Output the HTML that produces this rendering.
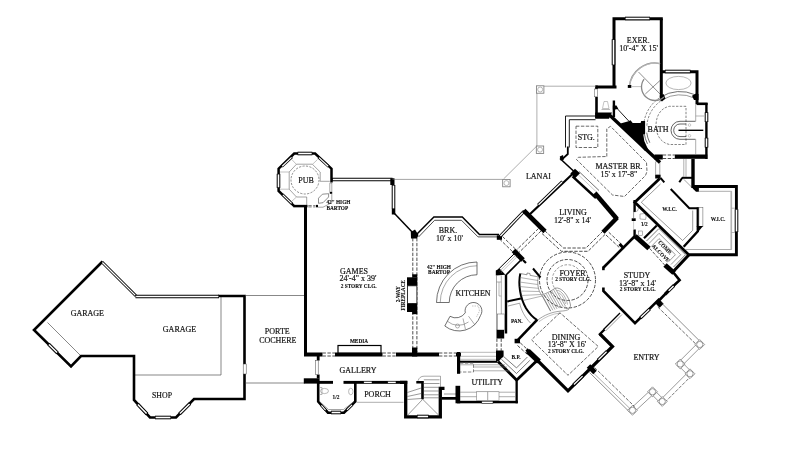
<!DOCTYPE html>
<html><head><meta charset="utf-8"><title>Floor plan</title>
<style>
html,body{margin:0;padding:0;background:#fff;}
body{width:800px;height:452px;overflow:hidden;}
svg{display:block;font-family:"Liberation Serif",serif;filter:grayscale(1);}
</style></head><body>
<svg width="800" height="452" viewBox="0 0 800 452">
<rect x="0" y="0" width="800" height="452" fill="#fff"/>
<g style="opacity:0.999">
<polyline points="47.50,322.50 80.00,355.00" fill="none" stroke="#555" stroke-width="0.7"/>
<polyline points="134.00,375.00 221.00,375.00 221.00,296.00" fill="none" stroke="#555" stroke-width="0.7"/>
<polyline points="102.50,261.50 34.00,330.00 71.00,366.50 81.00,356.00 134.00,356.00 134.00,400.00 150.00,417.50 176.00,417.50 194.00,399.00 244.50,399.00 244.50,374.00" fill="none" stroke="#000" stroke-width="2.6" stroke-linecap="butt" stroke-linejoin="miter"/>
<polyline points="244.50,364.00 244.50,296.00 218.00,296.00" fill="none" stroke="#000" stroke-width="2.6" stroke-linecap="butt" stroke-linejoin="miter"/>
<line x1="102.00" y1="262.00" x2="135.80" y2="295.80" stroke="#000" stroke-width="3"/>
<line x1="102.42" y1="262.42" x2="135.38" y2="295.38" stroke="#fff" stroke-width="1.3"/>
<line x1="135.50" y1="296.50" x2="219.00" y2="296.50" stroke="#000" stroke-width="3.6"/>
<line x1="136.10" y1="296.50" x2="218.40" y2="296.50" stroke="#fff" stroke-width="1.6"/>
<rect x="243.20" y="364.00" width="3.00" height="10.00" fill="#fff" stroke="#444" stroke-width="0.5"/>
<line x1="137.50" y1="404.00" x2="147.00" y2="414.00" stroke="#000" stroke-width="3.4"/>
<line x1="137.91" y1="404.43" x2="146.59" y2="413.57" stroke="#fff" stroke-width="1.5"/>
<line x1="155.00" y1="417.50" x2="171.00" y2="417.50" stroke="#000" stroke-width="3.6"/>
<line x1="155.60" y1="417.50" x2="170.40" y2="417.50" stroke="#fff" stroke-width="1.6"/>
<line x1="179.50" y1="414.00" x2="190.00" y2="403.50" stroke="#000" stroke-width="3.4"/>
<line x1="179.92" y1="413.58" x2="189.58" y2="403.92" stroke="#fff" stroke-width="1.5"/>
<line x1="48.50" y1="344.00" x2="57.50" y2="353.00" stroke="#000" stroke-width="3.4"/>
<line x1="48.92" y1="344.42" x2="57.08" y2="352.58" stroke="#fff" stroke-width="1.5"/>
<text x="87.30" y="316.30" font-size="8" text-anchor="middle" fill="#111" stroke="#111" stroke-width="0.18" font-weight="normal">GARAGE</text>
<text x="179.50" y="332.30" font-size="8" text-anchor="middle" fill="#111" stroke="#111" stroke-width="0.18" font-weight="normal">GARAGE</text>
<text x="162.00" y="398.00" font-size="7.8" text-anchor="middle" fill="#111" stroke="#111" stroke-width="0.18" font-weight="normal">SHOP</text>
<polyline points="245.50,295.50 305.00,295.50" fill="none" stroke="#555" stroke-width="0.7"/>
<polyline points="245.50,383.00 305.00,383.00" fill="none" stroke="#555" stroke-width="0.7"/>
<text x="277.30" y="334.00" font-size="8" text-anchor="middle" fill="#111" stroke="#111" stroke-width="0.18" font-weight="normal">PORTE</text>
<text x="277.80" y="343.20" font-size="8" text-anchor="middle" fill="#111" stroke="#111" stroke-width="0.18" font-weight="normal">COCHERE</text>
<polyline points="305.50,206.00 305.50,356.00" fill="none" stroke="#000" stroke-width="3" stroke-linecap="butt" stroke-linejoin="miter"/>
<rect x="304.00" y="352.50" width="18.50" height="4.00" fill="#000" stroke="none" stroke-width="0"/>
<rect x="335.00" y="352.50" width="47.50" height="4.00" fill="#000" stroke="none" stroke-width="0"/>
<rect x="396.00" y="352.50" width="43.00" height="4.00" fill="#000" stroke="none" stroke-width="0"/>
<rect x="456.00" y="352.50" width="5.00" height="4.00" fill="#000" stroke="none" stroke-width="0"/>
<polyline points="322.50,353.00 335.00,353.00" fill="none" stroke="#222" stroke-width="0.8" stroke-dasharray="3.4 1.5"/>
<polyline points="322.50,356.00 335.00,356.00" fill="none" stroke="#222" stroke-width="0.8" stroke-dasharray="3.4 1.5"/>
<polyline points="382.50,353.00 396.00,353.00" fill="none" stroke="#222" stroke-width="0.8" stroke-dasharray="3.4 1.5"/>
<polyline points="382.50,356.00 396.00,356.00" fill="none" stroke="#222" stroke-width="0.8" stroke-dasharray="3.4 1.5"/>
<polyline points="439.00,353.00 456.00,353.00" fill="none" stroke="#222" stroke-width="0.8" stroke-dasharray="3.4 1.5"/>
<polyline points="439.00,356.00 456.00,356.00" fill="none" stroke="#222" stroke-width="0.8" stroke-dasharray="3.4 1.5"/>
<rect x="338.00" y="345.50" width="43.00" height="7.50" fill="#fff" stroke="#000" stroke-width="1.2"/>
<text x="359.00" y="342.60" font-size="5.3" text-anchor="middle" fill="#111" stroke="#111" stroke-width="0.12" font-weight="bold">MEDIA</text>
<text x="354.00" y="274.00" font-size="8" text-anchor="middle" fill="#111" stroke="#111" stroke-width="0.18" font-weight="normal">GAMES</text>
<text x="358.00" y="281.20" font-size="8" text-anchor="middle" fill="#111" stroke="#111" stroke-width="0.18" font-weight="normal">24'-4&quot; x 39'</text>
<text x="358.70" y="287.60" font-size="5.3" text-anchor="middle" fill="#111" stroke="#111" stroke-width="0.12" font-weight="bold">2 STORY CLG.</text>
<line x1="332.00" y1="179.50" x2="392.50" y2="179.50" stroke="#000" stroke-width="3.6"/>
<line x1="332.60" y1="179.50" x2="391.90" y2="179.50" stroke="#fff" stroke-width="1.6"/>
<rect x="390.30" y="178.30" width="4.20" height="6.70" fill="#000" stroke="none" stroke-width="0"/>
<line x1="393.50" y1="185.00" x2="393.50" y2="209.00" stroke="#000" stroke-width="3.6"/>
<line x1="393.50" y1="185.60" x2="393.50" y2="208.40" stroke="#fff" stroke-width="1.6"/>
<rect x="391.80" y="209.00" width="3.50" height="5.50" fill="#000" stroke="none" stroke-width="0"/>
<polyline points="394.50,213.50 414.00,234.00" fill="none" stroke="#000" stroke-width="1.5" stroke-linecap="butt" stroke-linejoin="miter"/>
<polyline points="294.20,206.10 278.60,190.90 278.60,168.70 294.20,153.50 315.10,153.50 331.50,168.70 331.50,182.60" fill="none" stroke="#000" stroke-width="2.5" stroke-linecap="butt" stroke-linejoin="miter"/>
<polyline points="293.30,206.10 307.50,206.10" fill="none" stroke="#000" stroke-width="2.5" stroke-linecap="butt" stroke-linejoin="miter"/>
<line x1="297.60" y1="153.50" x2="312.30" y2="153.50" stroke="#000" stroke-width="3.6"/>
<line x1="298.20" y1="153.50" x2="311.70" y2="153.50" stroke="#fff" stroke-width="1.6"/>
<line x1="318.50" y1="157.20" x2="328.60" y2="166.60" stroke="#000" stroke-width="2.7"/>
<line x1="318.94" y1="157.61" x2="328.16" y2="166.19" stroke="#fff" stroke-width="1.2"/>
<line x1="278.50" y1="173.80" x2="278.50" y2="187.90" stroke="#000" stroke-width="3.6"/>
<line x1="278.50" y1="174.40" x2="278.50" y2="187.30" stroke="#fff" stroke-width="1.6"/>
<line x1="281.80" y1="166.60" x2="292.00" y2="157.00" stroke="#000" stroke-width="2.7"/>
<line x1="282.24" y1="166.19" x2="291.56" y2="157.41" stroke="#fff" stroke-width="1.2"/>
<line x1="282.40" y1="194.40" x2="292.00" y2="203.80" stroke="#000" stroke-width="2.7"/>
<line x1="282.83" y1="194.82" x2="291.57" y2="203.38" stroke="#fff" stroke-width="1.2"/>
<circle cx="305.00" cy="180.00" r="14.00" fill="none" stroke="#444" stroke-width="0.6" stroke-dasharray="2.2 1.3"/>
<polyline points="289.20,172.00 296.50,164.20 312.30,164.20 320.20,172.00 320.20,181.30 329.80,181.30" fill="none" stroke="#666" stroke-width="0.6"/>
<polyline points="289.20,172.00 289.20,189.20 296.50,197.00 306.70,197.00 306.70,205.00" fill="none" stroke="#666" stroke-width="0.6"/>
<polyline points="292.00,159.70 296.50,164.50" fill="none" stroke="#999" stroke-width="0.6"/>
<polyline points="317.50,159.50 312.50,164.30" fill="none" stroke="#999" stroke-width="0.6"/>
<polyline points="280.00,172.00 289.20,172.00" fill="none" stroke="#999" stroke-width="0.6"/>
<polyline points="280.00,189.20 289.20,189.20" fill="none" stroke="#999" stroke-width="0.6"/>
<polyline points="291.50,201.50 296.50,197.00" fill="none" stroke="#999" stroke-width="0.6"/>
<rect x="329.90" y="183.00" width="2.00" height="9.00" fill="#fff" stroke="#555" stroke-width="0.5"/>
<rect x="329.80" y="192.00" width="2.40" height="1.80" fill="#000" stroke="none" stroke-width="0"/>
<polyline points="331.80,193.80 331.80,202.70 323.00,207.20 318.00,207.20" fill="none" stroke="#666" stroke-width="0.6"/>
<polygon points="318.50,198.20 322.40,194.20 328.60,193.70 328.60,197.00 323.00,202.70 318.50,203.30" fill="#fff" stroke="#444" stroke-width="0.6"/>
<polyline points="308.30,205.60 315.50,205.60" fill="none" stroke="#555" stroke-width="0.8" stroke-dasharray="3.4 1.5"/>
<polyline points="308.30,206.90 315.50,206.90" fill="none" stroke="#555" stroke-width="0.8" stroke-dasharray="3.4 1.5"/>
<rect x="316.00" y="204.90" width="2.00" height="2.40" fill="#000" stroke="none" stroke-width="0"/>
<text x="306.00" y="183.00" font-size="8" text-anchor="middle" fill="#111" stroke="#111" stroke-width="0.18" font-weight="normal">PUB</text>
<text x="326.40" y="203.90" font-size="5.3" text-anchor="start" fill="#111" stroke="#111" stroke-width="0.12" font-weight="bold">42&quot; HIGH</text>
<text x="326.40" y="210.10" font-size="5.3" text-anchor="start" fill="#111" stroke="#111" stroke-width="0.12" font-weight="bold">BARTOP</text>
<polyline points="412.80,238.00 412.80,352.00" fill="none" stroke="#222" stroke-width="0.8" stroke-dasharray="3.4 1.5"/>
<polyline points="416.90,238.00 416.90,352.00" fill="none" stroke="#222" stroke-width="0.8" stroke-dasharray="3.4 1.5"/>
<rect x="407.00" y="277.30" width="10.30" height="8.50" fill="#000" stroke="none" stroke-width="0"/>
<rect x="412.20" y="274.30" width="5.10" height="3.20" fill="#000" stroke="none" stroke-width="0"/>
<rect x="407.00" y="303.50" width="10.30" height="8.50" fill="#000" stroke="none" stroke-width="0"/>
<rect x="412.20" y="311.80" width="5.10" height="2.40" fill="#000" stroke="none" stroke-width="0"/>
<rect x="407.40" y="285.80" width="9.50" height="17.70" fill="#fff" stroke="#000" stroke-width="0.8"/>
<rect x="412.00" y="347.50" width="5.30" height="9.00" fill="#000" stroke="none" stroke-width="0"/>
<text x="400.20" y="294.20" font-size="5.3" text-anchor="middle" fill="#111" stroke="#111" stroke-width="0.12" font-weight="bold" transform="rotate(-90 400.20 294.20)">2-WAY</text>
<text x="405.40" y="295.30" font-size="5.3" text-anchor="middle" fill="#111" stroke="#111" stroke-width="0.12" font-weight="bold" transform="rotate(-90 405.40 295.30)">FIREPLACE</text>
<polyline points="416.50,234.50 433.90,216.90 462.30,216.90 479.50,234.60 499.00,234.60" fill="none" stroke="#000" stroke-width="1.5" stroke-linecap="butt" stroke-linejoin="miter"/>
<polyline points="418.50,237.00 434.60,220.30 461.50,220.30 478.00,236.90 499.00,236.90" fill="none" stroke="#222" stroke-width="0.8" stroke-linecap="butt" stroke-linejoin="miter"/>
<polygon points="410.80,232.00 415.00,229.50 418.50,235.00 417.00,238.50 411.00,238.50" fill="#000" stroke="none" stroke-width="0"/>
<text x="448.00" y="232.60" font-size="8" text-anchor="middle" fill="#111" stroke="#111" stroke-width="0.18" font-weight="normal">BRK.</text>
<text x="449.50" y="241.00" font-size="8" text-anchor="middle" fill="#111" stroke="#111" stroke-width="0.18" font-weight="normal">10' x 10'</text>
<text x="439.00" y="268.60" font-size="5.3" text-anchor="middle" fill="#111" stroke="#111" stroke-width="0.12" font-weight="bold">42&quot; HIGH</text>
<text x="439.00" y="274.20" font-size="5.3" text-anchor="middle" fill="#111" stroke="#111" stroke-width="0.12" font-weight="bold">BARTOP</text>
<text x="473.00" y="295.60" font-size="8" text-anchor="middle" fill="#111" stroke="#111" stroke-width="0.18" font-weight="normal">KITCHEN</text>
<text x="538.40" y="178.50" font-size="8" text-anchor="middle" fill="#111" stroke="#111" stroke-width="0.18" font-weight="normal">LANAI</text>
<text x="358.00" y="373.00" font-size="8" text-anchor="middle" fill="#111" stroke="#111" stroke-width="0.18" font-weight="normal">GALLERY</text>
<text x="377.50" y="397.00" font-size="8" text-anchor="middle" fill="#111" stroke="#111" stroke-width="0.18" font-weight="normal">PORCH</text>
<text x="336.00" y="398.80" font-size="5.3" text-anchor="middle" fill="#111" stroke="#111" stroke-width="0.12" font-weight="bold">1/2</text>
<text x="487.30" y="384.60" font-size="8" text-anchor="middle" fill="#111" stroke="#111" stroke-width="0.18" font-weight="normal">UTILITY</text>
<rect x="316.80" y="356.00" width="2.80" height="4.50" fill="#000" stroke="none" stroke-width="0"/>
<rect x="316.80" y="374.50" width="2.80" height="4.00" fill="#000" stroke="none" stroke-width="0"/>
<rect x="315.60" y="360.50" width="2.60" height="14.00" fill="#fff" stroke="#444" stroke-width="0.5"/>
<rect x="303.80" y="378.30" width="15.80" height="5.30" fill="#000" stroke="none" stroke-width="0"/>
<rect x="317.00" y="380.90" width="16.00" height="2.90" fill="#000" stroke="none" stroke-width="0"/>
<rect x="343.50" y="380.90" width="63.80" height="2.90" fill="#000" stroke="none" stroke-width="0"/>
<rect x="363.80" y="381.30" width="8.20" height="2.10" fill="#fff" stroke="#000" stroke-width="0.5"/>
<rect x="387.80" y="381.30" width="8.20" height="2.10" fill="#fff" stroke="#000" stroke-width="0.5"/>
<polyline points="318.20,383.00 318.20,401.50 328.00,412.70 344.00,412.70 355.30,401.50 355.30,383.00" fill="none" stroke="#000" stroke-width="2.6" stroke-linecap="butt" stroke-linejoin="miter"/>
<line x1="321.00" y1="405.00" x2="326.00" y2="410.50" stroke="#000" stroke-width="2.6"/>
<line x1="321.40" y1="405.44" x2="325.60" y2="410.06" stroke="#fff" stroke-width="1.1"/>
<line x1="331.00" y1="412.50" x2="341.00" y2="412.50" stroke="#000" stroke-width="3.6"/>
<line x1="331.60" y1="412.50" x2="340.40" y2="412.50" stroke="#fff" stroke-width="1.6"/>
<line x1="346.50" y1="410.30" x2="352.50" y2="404.50" stroke="#000" stroke-width="2.6"/>
<line x1="346.93" y1="409.88" x2="352.07" y2="404.92" stroke="#fff" stroke-width="1.1"/>
<polyline points="319.50,401.50 328.50,409.50 343.50,409.50 354.00,401.50" fill="none" stroke="#666" stroke-width="0.6"/>
<ellipse cx="324.50" cy="391.00" rx="4.00" ry="2.60" fill="none" stroke="#777" stroke-width="0.5"/>
<path d="M320 387.5L322 387.5L322 394.5L320 394.5" fill="none" stroke="#777" stroke-width="0.5" />
<ellipse cx="350.80" cy="391.50" rx="2.20" ry="3.30" fill="none" stroke="#777" stroke-width="0.5"/>
<polyline points="356.70,402.30 403.50,402.30" fill="none" stroke="#777" stroke-width="0.6"/>
<polyline points="400.00,382.30 405.70,382.30 405.70,416.90 440.30,416.90 440.30,388.40 444.50,388.40" fill="none" stroke="#000" stroke-width="3.3" stroke-linecap="butt" stroke-linejoin="miter"/>
<line x1="417.00" y1="416.50" x2="428.70" y2="416.50" stroke="#000" stroke-width="3.6"/>
<line x1="417.60" y1="416.50" x2="428.10" y2="416.50" stroke="#fff" stroke-width="1.6"/>
<polyline points="416.30,382.30 422.50,382.30 422.50,399.30" fill="none" stroke="#000" stroke-width="2.6" stroke-linecap="butt" stroke-linejoin="miter"/>
<polyline points="422.70,399.30 407.50,415.30" fill="none" stroke="#555" stroke-width="0.6"/>
<polyline points="422.70,399.30 438.80,415.30" fill="none" stroke="#555" stroke-width="0.6"/>
<polyline points="423.80,379.80 439.50,379.80" fill="none" stroke="#555" stroke-width="0.6"/>
<polyline points="423.80,383.50 439.50,383.50" fill="none" stroke="#555" stroke-width="0.6"/>
<polyline points="423.80,387.30 439.50,387.30" fill="none" stroke="#555" stroke-width="0.6"/>
<polyline points="423.80,391.00 439.50,391.00" fill="none" stroke="#555" stroke-width="0.6"/>
<polyline points="423.80,394.80 439.50,394.80" fill="none" stroke="#555" stroke-width="0.6"/>
<polyline points="423.80,397.80 439.50,397.80" fill="none" stroke="#555" stroke-width="0.6"/>
<path d="M418 380.8Q419.5 376.2 424 376.2L440.5 376.2L440.5 387" fill="none" stroke="#555" stroke-width="0.5" />
<polyline points="407.30,392.50 421.20,388.00" fill="none" stroke="#555" stroke-width="0.6"/>
<polyline points="407.30,396.50 421.20,393.50" fill="none" stroke="#555" stroke-width="0.6"/>
<polyline points="407.30,399.50 421.20,398.50" fill="none" stroke="#555" stroke-width="0.6"/>
<rect x="441.80" y="397.00" width="15.50" height="2.70" fill="#000" stroke="none" stroke-width="0"/>
<polyline points="444.00,394.00 457.00,394.00" fill="none" stroke="#555" stroke-width="0.6"/>
<rect x="457.00" y="352.00" width="3.20" height="21.80" fill="#000" stroke="none" stroke-width="0"/>
<rect x="455.50" y="385.80" width="4.70" height="17.50" fill="#000" stroke="none" stroke-width="0"/>
<rect x="457.00" y="400.80" width="60.80" height="2.50" fill="#000" stroke="none" stroke-width="0"/>
<rect x="481.80" y="401.20" width="11.20" height="2.20" fill="#fff" stroke="#000" stroke-width="0.5"/>
<rect x="515.50" y="379.50" width="2.30" height="23.80" fill="#000" stroke="none" stroke-width="0"/>
<rect x="460.00" y="360.70" width="37.50" height="2.10" fill="#000" stroke="none" stroke-width="0"/>
<polygon points="496.00,350.50 503.50,350.50 503.50,356.00 499.00,361.00 496.00,361.00" fill="#000" stroke="none" stroke-width="0"/>
<polyline points="498.00,361.50 517.00,380.50" fill="none" stroke="#000" stroke-width="2.8" stroke-linecap="butt" stroke-linejoin="miter"/>
<polyline points="460.00,364.80 505.00,364.80" fill="none" stroke="#777" stroke-width="0.6"/>
<polyline points="473.50,367.00 507.00,367.00" fill="none" stroke="#777" stroke-width="0.6"/>
<polyline points="473.50,370.80 510.00,370.80" fill="none" stroke="#777" stroke-width="0.6"/>
<polyline points="460.00,363.20 473.50,363.20 473.50,372.00 460.00,372.00" fill="none" stroke="#666" stroke-width="0.8" stroke-dasharray="3.4 1.5"/>
<polyline points="460.00,392.20 515.50,392.20" fill="none" stroke="#777" stroke-width="0.6"/>
<polyline points="460.00,396.70 515.50,396.70" fill="none" stroke="#777" stroke-width="0.6"/>
<rect x="476.50" y="391.80" width="22.50" height="8.50" fill="#fff" stroke="#666" stroke-width="0.5"/>
<polyline points="487.70,391.80 487.70,400.30" fill="none" stroke="#666" stroke-width="0.6"/>
<polyline points="460.00,352.30 496.00,352.30" fill="none" stroke="#888" stroke-width="0.6"/>
<polyline points="460.00,356.30 496.00,356.30" fill="none" stroke="#888" stroke-width="0.6"/>
<polyline points="460.00,359.30 496.00,359.30" fill="none" stroke="#999" stroke-width="0.6"/>
<polyline points="516.50,380.30 537.30,360.30" fill="none" stroke="#000" stroke-width="2.8" stroke-linecap="butt" stroke-linejoin="miter"/>
<polyline points="501.30,359.20 516.50,373.50 529.80,360.40" fill="none" stroke="#444" stroke-width="0.7"/>
<polyline points="503.50,356.40 516.50,367.90 527.40,357.00" fill="none" stroke="#444" stroke-width="0.7"/>
<text x="516.00" y="358.80" font-size="5.3" text-anchor="middle" fill="#111" stroke="#111" stroke-width="0.12" font-weight="bold">B.P.</text>
<path d="M477 262A40.5 40.5 0 0 0 436.5 302.5L449.25 302.5A27.75 27.75 0 0 1 477 274.75Z" fill="none" stroke="#333" stroke-width="0.7" />
<path d="M477 265.75A36.75 36.75 0 0 0 440.25 302.5" fill="none" stroke="#555" stroke-width="0.5" />
<path d="M444.8 326A22.7 22.7 0 0 0 480.5 315.5A8.4 8.4 0 1 0 465.3 312.8A11.5 11.5 0 0 1 450 316.3Z" fill="none" stroke="#333" stroke-width="0.7" />
<path d="M447.3 321.2A17 17 0 0 0 468.5 322" fill="none" stroke="#555" stroke-width="0.5" />
<polyline points="463.00,318.50 465.50,329.50" fill="none" stroke="#555" stroke-width="0.5"/>
<polyline points="468.50,316.20 475.00,325.00" fill="none" stroke="#555" stroke-width="0.5"/>
<circle cx="457.50" cy="326.00" r="2.00" fill="none" stroke="#666" stroke-width="0.5"/>
<polyline points="472.00,306.00 478.50,306.00 479.50,311.00 476.50,317.00" fill="none" stroke="#888" stroke-width="0.5" stroke-dasharray="1.5 1"/>
<rect x="504.80" y="274.80" width="2.40" height="58.70" fill="#000" stroke="none" stroke-width="0"/>
<polygon points="495.80,275.50 495.80,270.50 499.50,268.50 505.50,274.80" fill="#000" stroke="none" stroke-width="0"/>
<polyline points="496.50,275.50 496.50,330.00" fill="none" stroke="#666" stroke-width="0.6"/>
<polyline points="501.30,275.50 501.30,314.00" fill="none" stroke="#777" stroke-width="0.6"/>
<rect x="497.30" y="314.00" width="7.20" height="16.50" fill="#fff" stroke="#555" stroke-width="0.5"/>
<polyline points="496.50,282.00 501.30,282.00" fill="none" stroke="#777" stroke-width="0.6"/>
<polyline points="499.00,282.00 499.00,296.00 501.30,296.00" fill="none" stroke="#888" stroke-width="0.6"/>
<rect x="496.50" y="329.80" width="7.70" height="8.70" fill="#000" stroke="none" stroke-width="0"/>
<polyline points="496.90,338.50 496.90,351.50" fill="none" stroke="#222" stroke-width="0.8" stroke-dasharray="3.4 1.5"/>
<polyline points="501.20,338.50 501.20,351.50" fill="none" stroke="#222" stroke-width="0.8" stroke-dasharray="3.4 1.5"/>
<rect x="496.00" y="351.30" width="7.20" height="6.00" fill="#000" stroke="none" stroke-width="0"/>
<rect x="496.80" y="235.30" width="5.20" height="4.50" fill="#000" stroke="none" stroke-width="0"/>
<line x1="500.00" y1="236.50" x2="524.30" y2="211.00" stroke="#000" stroke-width="3.2"/>
<line x1="500.41" y1="236.07" x2="523.89" y2="211.43" stroke="#fff" stroke-width="1.4"/>
<polyline points="528.50,215.50 573.00,173.50" fill="none" stroke="#000" stroke-width="2.2" stroke-linecap="butt" stroke-linejoin="miter"/>
<line x1="538.10" y1="205.20" x2="562.40" y2="181.60" stroke="#000" stroke-width="3"/>
<line x1="538.53" y1="204.78" x2="561.97" y2="182.02" stroke="#fff" stroke-width="1.3"/>
<polyline points="523.80,210.50 545.00,231.50" fill="none" stroke="#000" stroke-width="4.6" stroke-linecap="butt" stroke-linejoin="miter"/>
<polyline points="499.50,239.00 516.00,255.00" fill="none" stroke="#222" stroke-width="0.8" stroke-dasharray="3.4 1.5"/>
<polyline points="502.50,236.50 518.50,252.00" fill="none" stroke="#222" stroke-width="0.8" stroke-dasharray="3.4 1.5"/>
<polyline points="541.00,231.00 519.00,252.50" fill="none" stroke="#222" stroke-width="0.8" stroke-dasharray="3.4 1.5"/>
<polyline points="538.50,228.50 516.50,250.00" fill="none" stroke="#222" stroke-width="0.8" stroke-dasharray="3.4 1.5"/>
<polyline points="513.50,250.50 523.00,260.00" fill="none" stroke="#000" stroke-width="5" stroke-linecap="butt" stroke-linejoin="miter"/>
<polyline points="523.00,260.00 526.00,263.00" fill="none" stroke="#000" stroke-width="2.2" stroke-linecap="butt" stroke-linejoin="miter"/>
<polyline points="498.00,269.70 514.50,253.50" fill="none" stroke="#000" stroke-width="1.0" stroke-linecap="butt" stroke-linejoin="miter"/>
<polyline points="506.00,275.00 522.00,259.00" fill="none" stroke="#000" stroke-width="1.7" stroke-linecap="butt" stroke-linejoin="miter"/>
<polyline points="499.60,271.20 516.00,255.00" fill="none" stroke="#777" stroke-width="0.5"/>
<polyline points="501.00,272.60 517.40,256.40" fill="none" stroke="#999" stroke-width="0.5"/>
<polyline points="572.50,176.30 596.00,198.00" fill="none" stroke="#000" stroke-width="2.4" stroke-linecap="butt" stroke-linejoin="miter"/>
<polyline points="579.00,171.50 599.00,190.50" fill="none" stroke="#333" stroke-width="0.7"/>
<polyline points="577.30,173.80 597.00,192.50" fill="none" stroke="#999" stroke-width="0.5"/>
<polygon points="570.30,173.50 575.00,168.80 580.00,173.20 575.30,178.00" fill="#000" stroke="none" stroke-width="0"/>
<polyline points="594.80,193.00 617.00,219.00" fill="none" stroke="#000" stroke-width="4.6" stroke-linecap="butt" stroke-linejoin="miter"/>
<polyline points="617.30,217.50 603.00,232.30" fill="none" stroke="#000" stroke-width="4.4" stroke-linecap="butt" stroke-linejoin="miter"/>
<polyline points="544.80,230.80 563.50,248.00 586.00,248.00 603.00,231.00" fill="none" stroke="#222" stroke-width="0.8" stroke-dasharray="3.4 1.5"/>
<polyline points="542.00,233.50 561.50,251.30 588.00,251.30 606.00,233.50" fill="none" stroke="#222" stroke-width="0.8" stroke-dasharray="3.4 1.5"/>
<polyline points="608.80,232.30 622.30,245.00" fill="none" stroke="#222" stroke-width="0.8" stroke-dasharray="3.4 1.5"/>
<polyline points="606.00,235.00 619.50,247.70" fill="none" stroke="#222" stroke-width="0.8" stroke-dasharray="3.4 1.5"/>
<polyline points="619.50,244.00 624.00,248.50" fill="none" stroke="#000" stroke-width="3" stroke-linecap="butt" stroke-linejoin="miter"/>
<text x="573.00" y="215.00" font-size="8" text-anchor="middle" fill="#111" stroke="#111" stroke-width="0.18" font-weight="normal">LIVING</text>
<text x="572.50" y="223.20" font-size="8" text-anchor="middle" fill="#111" stroke="#111" stroke-width="0.18" font-weight="normal">12'-8&quot; x 14'</text>
<circle cx="567.50" cy="280.00" r="28.00" fill="none" stroke="#222" stroke-width="0.8" stroke-dasharray="3.4 1.5"/>
<circle cx="567.50" cy="280.00" r="20.50" fill="none" stroke="#222" stroke-width="0.8" stroke-dasharray="3.4 1.5"/>
<path d="M554.25 287.65A15.30 15.30 0 0 1 580.75 272.35" fill="none" stroke="#555" stroke-width="0.6" stroke-dasharray="2.6 1.5" />
<text x="572.50" y="276.20" font-size="8" text-anchor="middle" fill="#111" stroke="#111" stroke-width="0.18" font-weight="normal">FOYER</text>
<text x="573.30" y="281.30" font-size="5.3" text-anchor="middle" fill="#111" stroke="#111" stroke-width="0.12" font-weight="bold">2 STORY CLG.</text>
<path d="M520.3 273.5C518 284 520 298 526 308.2C529 313 533 317.5 537.2 320" fill="none" stroke="#000" stroke-width="2" />
<polyline points="533.00,268.50 540.50,277.50" fill="none" stroke="#000" stroke-width="2" stroke-linecap="butt" stroke-linejoin="miter"/>
<polyline points="520.30,273.50 527.00,274.80 527.00,273.00 530.00,273.50 530.00,275.30 538.30,276.90" fill="none" stroke="#555" stroke-width="0.6"/>
<path d="M538.3 276.9C537 283 538 291 541.7 295C545 294.3 551 291 555.3 288.2" fill="none" stroke="#555" stroke-width="0.6" />
<polyline points="520.00,277.50 538.00,280.50" fill="none" stroke="#666" stroke-width="0.5"/>
<polyline points="519.50,282.00 537.60,284.50" fill="none" stroke="#666" stroke-width="0.5"/>
<polyline points="519.60,286.50 538.00,288.30" fill="none" stroke="#666" stroke-width="0.5"/>
<polyline points="520.20,291.00 539.00,291.50" fill="none" stroke="#666" stroke-width="0.5"/>
<polyline points="521.20,295.50 541.00,294.50" fill="none" stroke="#666" stroke-width="0.5"/>
<polyline points="523.00,300.50 542.20,296.00" fill="none" stroke="#666" stroke-width="0.5"/>
<polyline points="542.90,296.40 550.75,311.00" fill="none" stroke="#555" stroke-width="0.5"/>
<polyline points="544.67,295.27 552.84,310.29" fill="none" stroke="#555" stroke-width="0.5"/>
<polyline points="546.44,294.14 554.94,309.57" fill="none" stroke="#555" stroke-width="0.5"/>
<polyline points="548.21,293.01 557.03,308.86" fill="none" stroke="#555" stroke-width="0.5"/>
<polyline points="549.99,291.89 559.12,308.14" fill="none" stroke="#555" stroke-width="0.5"/>
<polyline points="551.76,290.76 561.21,307.43" fill="none" stroke="#555" stroke-width="0.5"/>
<polyline points="553.53,289.63 563.31,306.71" fill="none" stroke="#555" stroke-width="0.5"/>
<polyline points="555.30,288.50 565.40,306.00" fill="none" stroke="#555" stroke-width="0.5"/>
<path d="M541.7 295L550.5 311.2" fill="none" stroke="#555" stroke-width="0.6" />
<path d="M555 288.3C561 286 569 296 570.5 305C570.5 309 567 309.5 565 306.5" fill="none" stroke="#555" stroke-width="0.6" />
<path d="M557 290.5C561.5 290 566.5 298 567.5 304.5" fill="none" stroke="#666" stroke-width="0.5" />
<path d="M558.5 293C561.5 293.5 564.5 299 565.5 304" fill="none" stroke="#666" stroke-width="0.5" />
<path d="M537.5 320.3C544 315 552 312 560 311.2C564 311 567 310.5 569 309.3" fill="none" stroke="#666" stroke-width="0.6" />
<path d="M538.8 321.8C545 317 552 314 560 313" fill="none" stroke="#888" stroke-width="0.5" />
<polyline points="507.20,301.50 520.90,298.60" fill="none" stroke="#000" stroke-width="2" stroke-linecap="butt" stroke-linejoin="miter"/>
<path d="M508 306L519.7 303.2C521 310 525 317.5 530.5 323" fill="none" stroke="#666" stroke-width="0.6" />
<text x="516.80" y="322.80" font-size="5.3" text-anchor="middle" fill="#111" stroke="#111" stroke-width="0.12" font-weight="bold">PAN.</text>
<polyline points="537.30,319.70 517.50,340.30" fill="none" stroke="#000" stroke-width="2.6" stroke-linecap="butt" stroke-linejoin="miter"/>
<rect x="514.60" y="338.80" width="5.40" height="4.50" fill="#000" stroke="none" stroke-width="0"/>
<polyline points="520.20,342.80 530.00,351.80" fill="none" stroke="#222" stroke-width="0.8" stroke-dasharray="3.4 1.5"/>
<polyline points="517.50,345.50 527.50,354.50" fill="none" stroke="#222" stroke-width="0.8" stroke-dasharray="3.4 1.5"/>
<polyline points="526.50,349.50 568.00,390.80 612.50,346.50 600.00,334.00" fill="none" stroke="#000" stroke-width="3.2" stroke-linecap="butt" stroke-linejoin="miter"/>
<polyline points="527.80,351.00 539.00,361.50" fill="none" stroke="#000" stroke-width="5.5" stroke-linecap="butt" stroke-linejoin="miter"/>
<line x1="573.50" y1="385.00" x2="583.00" y2="375.70" stroke="#000" stroke-width="3.2"/>
<line x1="573.93" y1="384.58" x2="582.57" y2="376.12" stroke="#fff" stroke-width="1.3"/>
<line x1="598.00" y1="360.20" x2="607.00" y2="351.30" stroke="#000" stroke-width="3.2"/>
<line x1="598.43" y1="359.78" x2="606.57" y2="351.72" stroke="#fff" stroke-width="1.3"/>
<polyline points="599.00,335.00 604.50,329.50" fill="none" stroke="#000" stroke-width="2.4" stroke-linecap="butt" stroke-linejoin="miter"/>
<polyline points="603.50,329.50 620.00,313.00" fill="none" stroke="#000" stroke-width="1.2" stroke-linecap="butt" stroke-linejoin="miter"/>
<polyline points="605.50,331.00 622.00,314.50" fill="none" stroke="#555" stroke-width="0.6"/>
<polyline points="560.00,312.80 531.50,339.80 568.00,375.30 598.30,346.50 560.00,312.80" fill="none" stroke="#444" stroke-width="0.8" stroke-dasharray="3.4 1.5"/>
<text x="566.00" y="339.60" font-size="8" text-anchor="middle" fill="#111" stroke="#111" stroke-width="0.18" font-weight="normal">DINING</text>
<text x="567.00" y="347.20" font-size="8" text-anchor="middle" fill="#111" stroke="#111" stroke-width="0.18" font-weight="normal">13'-8&quot; X 16'</text>
<text x="566.00" y="353.00" font-size="5.3" text-anchor="middle" fill="#111" stroke="#111" stroke-width="0.12" font-weight="bold">2 STORY CLG.</text>
<polyline points="634.50,236.50 603.50,267.50" fill="none" stroke="#000" stroke-width="2.6" stroke-linecap="butt" stroke-linejoin="miter"/>
<polyline points="603.40,287.50 603.40,291.00 635.00,323.20 659.50,298.80" fill="none" stroke="#000" stroke-width="2.6" stroke-linecap="butt" stroke-linejoin="miter"/>
<polyline points="603.40,266.50 603.40,270.20" fill="none" stroke="#000" stroke-width="2.6" stroke-linecap="butt" stroke-linejoin="miter"/>
<line x1="640.40" y1="318.00" x2="649.70" y2="309.20" stroke="#000" stroke-width="3.2"/>
<line x1="640.84" y1="317.59" x2="649.26" y2="309.61" stroke="#fff" stroke-width="1.4"/>
<polygon points="655.60,303.60 659.60,299.60 663.60,303.80 659.60,307.80" fill="#000" stroke="none" stroke-width="0"/>
<polyline points="635.00,236.00 649.00,248.50" fill="none" stroke="#000" stroke-width="5" stroke-linecap="butt" stroke-linejoin="miter"/>
<polyline points="649.50,248.30 665.00,265.40" fill="none" stroke="#333" stroke-width="0.8" stroke-dasharray="3.4 1.5"/>
<polyline points="665.00,265.00 674.00,273.00" fill="none" stroke="#000" stroke-width="5" stroke-linecap="butt" stroke-linejoin="miter"/>
<polyline points="673.00,272.00 679.60,280.20 668.00,291.00" fill="none" stroke="#000" stroke-width="2.6" stroke-linecap="butt" stroke-linejoin="miter"/>
<line x1="665.00" y1="294.30" x2="674.00" y2="285.50" stroke="#000" stroke-width="3.2"/>
<line x1="665.43" y1="293.88" x2="673.57" y2="285.92" stroke="#fff" stroke-width="1.4"/>
<polyline points="668.50,290.60 659.50,300.00" fill="none" stroke="#000" stroke-width="2.6" stroke-linecap="butt" stroke-linejoin="miter"/>
<text x="637.00" y="278.00" font-size="8" text-anchor="middle" fill="#111" stroke="#111" stroke-width="0.18" font-weight="normal">STUDY</text>
<text x="637.50" y="285.60" font-size="8" text-anchor="middle" fill="#111" stroke="#111" stroke-width="0.18" font-weight="normal">13'-8&quot; x 14'</text>
<text x="637.70" y="291.40" font-size="5.3" text-anchor="middle" fill="#111" stroke="#111" stroke-width="0.12" font-weight="bold">2 STORY CLG.</text>
<polyline points="634.60,200.00 634.60,212.00" fill="none" stroke="#000" stroke-width="2.4" stroke-linecap="butt" stroke-linejoin="miter"/>
<polyline points="633.70,218.30 633.70,221.00" fill="none" stroke="#000" stroke-width="4" stroke-linecap="butt" stroke-linejoin="miter"/>
<polyline points="634.60,229.50 634.60,237.50" fill="none" stroke="#000" stroke-width="2.4" stroke-linecap="butt" stroke-linejoin="miter"/>
<polyline points="633.60,212.00 633.60,218.30" fill="none" stroke="#555" stroke-width="0.6"/>
<polyline points="633.60,221.00 633.60,229.50" fill="none" stroke="#aaa" stroke-width="0.6"/>
<path d="M634.5 204A4 4 0 0 1 634.5 212" fill="none" stroke="#666" stroke-width="0.5" />
<polyline points="656.80,225.50 644.00,238.30" fill="none" stroke="#000" stroke-width="2.2" stroke-linecap="butt" stroke-linejoin="miter"/>
<path d="M640 214L645 213.5Q647 216.5 645.5 219.5L640 219Z" fill="none" stroke="#666" stroke-width="0.5" />
<rect x="638.30" y="231.00" width="4.20" height="4.30" fill="#fff" stroke="#666" stroke-width="0.5"/>
<text x="644.30" y="226.20" font-size="5.3" text-anchor="middle" fill="#111" stroke="#111" stroke-width="0.12" font-weight="bold">1/2</text>
<polyline points="646.50,241.00 659.00,228.50 685.50,254.70 673.50,267.00" fill="none" stroke="#444" stroke-width="0.7"/>
<polyline points="649.00,243.50 659.00,233.30 680.70,254.70 671.00,264.50" fill="none" stroke="#555" stroke-width="0.6"/>
<polyline points="651.80,246.00 659.00,238.60 675.40,254.70 668.50,261.80" fill="none" stroke="#555" stroke-width="0.6"/>
<polyline points="689.00,254.70 674.00,270.70" fill="none" stroke="#000" stroke-width="3" stroke-linecap="butt" stroke-linejoin="miter"/>
<text x="663.80" y="248.80" font-size="5.3" text-anchor="middle" fill="#111" stroke="#111" stroke-width="0.12" font-weight="bold" transform="rotate(45 663.80 248.80)">COMP.</text>
<text x="659.60" y="254.60" font-size="5.3" text-anchor="middle" fill="#111" stroke="#111" stroke-width="0.12" font-weight="bold" transform="rotate(45 659.60 254.60)">ALCOVE</text>
<polyline points="659.80,178.50 634.80,202.30 688.50,254.50" fill="none" stroke="#000" stroke-width="2.8" stroke-linecap="butt" stroke-linejoin="miter"/>
<polyline points="660.50,184.00 641.30,202.30 682.60,240.50 692.70,230.30 692.70,210.50" fill="none" stroke="#555" stroke-width="0.6"/>
<polyline points="670.70,189.00 689.30,208.20 698.90,208.20" fill="none" stroke="#000" stroke-width="2" stroke-linecap="butt" stroke-linejoin="miter"/>
<polyline points="697.80,207.50 697.80,231.40 683.70,246.80" fill="none" stroke="#000" stroke-width="2.4" stroke-linecap="butt" stroke-linejoin="miter"/>
<rect x="698.90" y="207.60" width="4.00" height="19.20" fill="#fff" stroke="#555" stroke-width="0.5"/>
<polygon points="696.60,226.00 703.00,226.00 698.50,231.50" fill="#000" stroke="none" stroke-width="0"/>
<text x="669.50" y="211.40" font-size="5.3" text-anchor="middle" fill="#111" stroke="#111" stroke-width="0.12" font-weight="bold">W.I.C.</text>
<rect x="655.20" y="174.70" width="5.40" height="3.80" fill="#000" stroke="none" stroke-width="0"/>
<rect x="655.80" y="161.80" width="4.10" height="13.00" fill="#fff" stroke="#555" stroke-width="0.5"/>
<polyline points="660.50,177.80 664.30,182.30" fill="none" stroke="#000" stroke-width="2" stroke-linecap="butt" stroke-linejoin="miter"/>
<polyline points="682.30,177.80 679.30,182.30" fill="none" stroke="#000" stroke-width="2" stroke-linecap="butt" stroke-linejoin="miter"/>
<polyline points="682.00,177.80 692.00,177.80" fill="none" stroke="#000" stroke-width="2" stroke-linecap="butt" stroke-linejoin="miter"/>
<polyline points="683.80,179.30 692.00,187.50" fill="none" stroke="#666" stroke-width="0.6"/>
<polyline points="683.80,159.00 683.80,177.00" fill="none" stroke="#777" stroke-width="0.6"/>
<polyline points="686.00,159.00 686.00,177.00" fill="none" stroke="#777" stroke-width="0.6"/>
<rect x="691.30" y="159.00" width="3.40" height="29.00" fill="#000" stroke="none" stroke-width="0"/>
<polyline points="692.70,186.50 736.40,186.50 736.40,209.50" fill="none" stroke="#000" stroke-width="2.9" stroke-linecap="butt" stroke-linejoin="miter"/>
<polygon points="692.70,185.00 698.90,185.00 698.90,191.80 696.00,191.80 692.70,188.50" fill="#000" stroke="none" stroke-width="0"/>
<line x1="736.50" y1="209.30" x2="736.50" y2="232.00" stroke="#000" stroke-width="3.6"/>
<line x1="736.50" y1="209.90" x2="736.50" y2="231.40" stroke="#fff" stroke-width="1.6"/>
<polyline points="736.40,232.00 736.40,254.80 688.20,254.80" fill="none" stroke="#000" stroke-width="2.9" stroke-linecap="butt" stroke-linejoin="miter"/>
<polyline points="698.90,191.30 731.60,191.30 731.60,249.50 684.80,249.50" fill="none" stroke="#888" stroke-width="0.7"/>
<polyline points="730.50,192.00 730.50,249.00" fill="none" stroke="#aaa" stroke-width="0.5"/>
<polyline points="731.60,208.20 735.00,208.20" fill="none" stroke="#888" stroke-width="0.6"/>
<polyline points="731.60,232.50 735.00,232.50" fill="none" stroke="#888" stroke-width="0.6"/>
<text x="718.00" y="220.60" font-size="5.3" text-anchor="middle" fill="#111" stroke="#111" stroke-width="0.12" font-weight="bold">W.I.C.</text>
<rect x="654.50" y="154.50" width="8.30" height="5.00" fill="#000" stroke="none" stroke-width="0"/>
<polyline points="662.80,155.00 674.80,155.00" fill="none" stroke="#222" stroke-width="0.8" stroke-dasharray="3.4 1.5"/>
<polyline points="662.80,158.50 674.80,158.50" fill="none" stroke="#222" stroke-width="0.8" stroke-dasharray="3.4 1.5"/>
<rect x="674.80" y="154.50" width="32.50" height="4.30" fill="#000" stroke="none" stroke-width="0"/>
<polyline points="706.40,103.00 706.40,159.00" fill="none" stroke="#000" stroke-width="2.4" stroke-linecap="butt" stroke-linejoin="miter"/>
<line x1="706.50" y1="112.30" x2="706.50" y2="122.00" stroke="#000" stroke-width="3.6"/>
<line x1="706.50" y1="112.90" x2="706.50" y2="121.40" stroke="#fff" stroke-width="1.6"/>
<line x1="706.50" y1="137.80" x2="706.50" y2="147.50" stroke="#000" stroke-width="3.6"/>
<line x1="706.50" y1="138.40" x2="706.50" y2="146.90" stroke="#fff" stroke-width="1.6"/>
<polyline points="697.00,103.80 707.60,103.80" fill="none" stroke="#000" stroke-width="2.6" stroke-linecap="butt" stroke-linejoin="miter"/>
<polyline points="661.30,18.80 661.30,97.00" fill="none" stroke="#000" stroke-width="3" stroke-linecap="butt" stroke-linejoin="miter"/>
<polyline points="660.00,71.70 697.00,71.70 697.00,104.50" fill="none" stroke="#000" stroke-width="3" stroke-linecap="butt" stroke-linejoin="miter"/>
<line x1="665.00" y1="71.50" x2="690.50" y2="71.50" stroke="#000" stroke-width="3.6"/>
<line x1="665.60" y1="71.50" x2="689.90" y2="71.50" stroke="#fff" stroke-width="1.6"/>
<ellipse cx="678.50" cy="83.00" rx="12.60" ry="6.60" fill="none" stroke="#888" stroke-width="0.6"/>
<path d="M660.66 97.05A36.50 36.50 0 0 1 694.85 94.66" fill="none" stroke="#333" stroke-width="0.7" />
<path d="M662.90 99.54A33.20 33.20 0 0 1 694.03 97.91" fill="none" stroke="#555" stroke-width="0.6" />
<path d="M643.59 125.45A36.50 36.50 0 0 1 659.59 97.74" fill="none" stroke="#333" stroke-width="0.6" stroke-dasharray="2.4 1.4" />
<path d="M646.88 125.68A33.20 33.20 0 0 1 661.43 100.48" fill="none" stroke="#333" stroke-width="0.6" stroke-dasharray="2.4 1.4" />
<polygon points="659.80,95.50 663.50,94.00 665.50,98.50 662.00,101.50 659.80,100.00" fill="#000" stroke="none" stroke-width="0"/>
<polygon points="692.00,95.80 696.00,93.50 698.50,94.00 698.50,100.00 694.00,100.00" fill="#000" stroke="none" stroke-width="0"/>
<path d="M644.15 133.04A36.20 36.20 0 0 0 647.46 143.87" fill="none" stroke="#333" stroke-width="0.7" />
<path d="M646.73 132.68A33.60 33.60 0 0 0 649.80 142.73" fill="none" stroke="#333" stroke-width="0.7" />
<path d="M686 106.3L669.5 106.3C660 108 656 117 656 125.4C656 134 660 142.5 669.5 144.5L686 144.5Z" fill="none" stroke="#333" stroke-width="0.6" stroke-dasharray="2.4 1.4" />
<path d="M695.5 121.3L680 121.3A9 9 0 0 0 680 139.3L695.5 139.3" fill="none" stroke="#222" stroke-width="0.7" />
<path d="M686 124L680 124A6.3 6.3 0 0 0 680 136.6L686 136.6" fill="none" stroke="#222" stroke-width="0.7" />
<polyline points="678.50,130.30 703.30,130.30" fill="none" stroke="#000" stroke-width="1.4" stroke-linecap="butt" stroke-linejoin="miter"/>
<polyline points="695.70,104.80 695.70,121.30" fill="none" stroke="#777" stroke-width="0.6"/>
<polyline points="695.70,139.30 695.70,154.50" fill="none" stroke="#777" stroke-width="0.6"/>
<polyline points="695.70,116.00 704.00,116.00" fill="none" stroke="#888" stroke-width="0.6"/>
<circle cx="689.50" cy="125.00" r="1.30" fill="none" stroke="#999" stroke-width="0.5"/>
<circle cx="689.50" cy="135.80" r="1.30" fill="none" stroke="#999" stroke-width="0.5"/>
<text x="658.00" y="131.80" font-size="8" text-anchor="middle" fill="#111" stroke="#111" stroke-width="0.18" font-weight="normal">BATH</text>
<polygon points="620.50,123.50 628.50,121.20 630.50,120.30 632.70,123.10 640.60,123.10 641.20,120.90 645.10,120.90 645.10,133.80 643.30,134.50 644.30,141.00 647.00,147.00 649.00,151.00 645.00,151.00" fill="#000" stroke="none" stroke-width="0"/>
<polyline points="614.00,88.00 614.00,18.80 662.80,18.80" fill="none" stroke="#000" stroke-width="3" stroke-linecap="butt" stroke-linejoin="miter"/>
<line x1="625.00" y1="18.50" x2="650.00" y2="18.50" stroke="#000" stroke-width="3.6"/>
<line x1="625.60" y1="18.50" x2="649.40" y2="18.50" stroke="#fff" stroke-width="1.6"/>
<line x1="613.50" y1="39.30" x2="613.50" y2="65.20" stroke="#000" stroke-width="3.6"/>
<line x1="613.50" y1="39.90" x2="613.50" y2="64.60" stroke="#fff" stroke-width="1.6"/>
<text x="638.20" y="42.80" font-size="8" text-anchor="middle" fill="#111" stroke="#111" stroke-width="0.18" font-weight="normal">EXER.</text>
<text x="638.60" y="50.70" font-size="8" text-anchor="middle" fill="#111" stroke="#111" stroke-width="0.18" font-weight="normal">10'-4&quot; X 15'</text>
<path d="M629.44 86.29A25.90 25.90 0 0 1 660.14 63.58" fill="none" stroke="#888" stroke-width="1.4" />
<path d="M629.44 86.29A25.90 25.90 0 0 1 660.14 63.58" fill="none" stroke="#fff" stroke-width="0.4" />
<rect x="627.80" y="85.00" width="3.50" height="2.90" fill="#000" stroke="none" stroke-width="0"/>
<polyline points="631.50,86.60 641.00,86.60" fill="none" stroke="#999" stroke-width="0.6"/>
<path d="M664.03 97.03A13.50 13.50 0 0 1 644.08 79.06" fill="none" stroke="#888" stroke-width="1.3" />
<polyline points="638.50,72.00 660.00,94.00" fill="none" stroke="#444" stroke-width="0.6"/>
<polyline points="645.30,94.00 660.00,80.50" fill="none" stroke="#444" stroke-width="0.6"/>
<polyline points="595.50,87.00 616.50,87.00" fill="none" stroke="#000" stroke-width="3" stroke-linecap="butt" stroke-linejoin="miter"/>
<polyline points="596.50,85.50 596.50,89.00" fill="none" stroke="#000" stroke-width="2.6" stroke-linecap="butt" stroke-linejoin="miter"/>
<polyline points="596.50,96.80 596.50,118.00" fill="none" stroke="#000" stroke-width="2.6" stroke-linecap="butt" stroke-linejoin="miter"/>
<rect x="594.70" y="89.00" width="2.60" height="7.80" fill="#fff" stroke="#555" stroke-width="0.5"/>
<polyline points="613.90,100.50 613.90,117.00" fill="none" stroke="#000" stroke-width="2.4" stroke-linecap="butt" stroke-linejoin="miter"/>
<polygon points="595.20,112.50 612.00,112.50 609.00,118.80 595.20,118.80" fill="#000" stroke="none" stroke-width="0"/>
<path d="M602.5 108.5L604 101.5L607.5 101.5L609 108.5Z" fill="none" stroke="#888" stroke-width="0.5" />
<polyline points="601.50,109.50 610.00,109.50" fill="none" stroke="#888" stroke-width="0.6"/>
<polyline points="609.50,115.00 660.00,162.50" fill="none" stroke="#000" stroke-width="3.4" stroke-linecap="butt" stroke-linejoin="miter"/>
<polyline points="616.00,107.30 629.00,121.30" fill="none" stroke="#000" stroke-width="0.9" stroke-linecap="butt" stroke-linejoin="miter"/>
<polygon points="612.80,105.50 616.50,105.50 618.30,108.80 615.50,109.50 612.80,109.50" fill="#000" stroke="none" stroke-width="0"/>
<polyline points="595.50,116.00 565.50,116.00 565.50,147.50" fill="none" stroke="#000" stroke-width="0.9" stroke-linecap="butt" stroke-linejoin="miter"/>
<polyline points="595.50,119.70 569.30,119.70 569.30,147.50" fill="none" stroke="#000" stroke-width="0.9" stroke-linecap="butt" stroke-linejoin="miter"/>
<polyline points="567.80,146.50 567.80,154.00 562.00,159.30" fill="none" stroke="#000" stroke-width="1.8" stroke-linecap="butt" stroke-linejoin="miter"/>
<polyline points="560.00,158.50 573.50,171.00" fill="none" stroke="#000" stroke-width="1.6" stroke-linecap="butt" stroke-linejoin="miter"/>
<polygon points="559.80,156.50 563.00,155.00 564.00,159.50 560.50,160.50" fill="#000" stroke="none" stroke-width="0"/>
<polyline points="576.00,126.20 597.80,126.20 597.80,147.50 576.00,147.50 576.00,126.20" fill="none" stroke="#444" stroke-width="0.8" stroke-dasharray="3.4 1.5"/>
<text x="586.30" y="140.00" font-size="8" text-anchor="middle" fill="#111" stroke="#111" stroke-width="0.18" font-weight="normal">STG.</text>
<polyline points="606.80,156.50 606.80,128.80 610.50,126.30 646.50,162.50 647.00,171.50 645.50,175.50 624.50,196.50 612.50,195.00 576.50,159.50 578.30,157.30 606.80,156.50" fill="none" stroke="#444" stroke-width="0.8" stroke-dasharray="3.4 1.5"/>
<text x="619.00" y="169.00" font-size="8" text-anchor="middle" fill="#111" stroke="#111" stroke-width="0.18" font-weight="normal">MASTER BR.</text>
<text x="618.80" y="177.20" font-size="8" text-anchor="middle" fill="#111" stroke="#111" stroke-width="0.18" font-weight="normal">15' x 17'-8&quot;</text>
<polyline points="392.50,179.40 502.70,179.40" fill="none" stroke="#666" stroke-width="0.6"/>
<polyline points="503.50,179.00 536.80,146.00" fill="none" stroke="#777" stroke-width="0.6"/>
<polyline points="536.90,93.00 536.90,146.20" fill="none" stroke="#777" stroke-width="0.6"/>
<polyline points="544.00,86.20 596.00,86.20" fill="none" stroke="#777" stroke-width="0.6"/>
<rect x="502.70" y="179.40" width="7.40" height="7.40" fill="#fff" stroke="#777" stroke-width="0.8"/>
<circle cx="506.40" cy="183.10" r="2.50" fill="none" stroke="#999" stroke-width="0.7"/>
<rect x="536.30" y="146.00" width="7.40" height="7.40" fill="#fff" stroke="#777" stroke-width="0.8"/>
<circle cx="540.00" cy="149.70" r="2.50" fill="none" stroke="#999" stroke-width="0.7"/>
<rect x="536.50" y="85.80" width="7.40" height="7.40" fill="#fff" stroke="#777" stroke-width="0.8"/>
<circle cx="540.20" cy="89.50" r="2.50" fill="none" stroke="#999" stroke-width="0.7"/>
<polyline points="661.50,303.00 703.20,344.50" fill="none" stroke="#444" stroke-width="0.6"/>
<polyline points="657.80,307.00 696.30,344.50" fill="none" stroke="#444" stroke-width="0.8" stroke-dasharray="3.4 1.5"/>
<polyline points="698.02,342.77 678.52,362.27" fill="none" stroke="#555" stroke-width="0.6"/>
<polyline points="701.48,346.23 681.98,365.73" fill="none" stroke="#555" stroke-width="0.6"/>
<polyline points="688.27,372.02 660.52,399.77" fill="none" stroke="#555" stroke-width="0.6"/>
<polyline points="691.73,375.48 663.98,403.23" fill="none" stroke="#555" stroke-width="0.8" stroke-dasharray="3.4 1.5"/>
<polyline points="650.83,389.95 630.83,408.50" fill="none" stroke="#555" stroke-width="0.6"/>
<polyline points="654.17,393.55 634.17,412.10" fill="none" stroke="#555" stroke-width="0.6"/>
<polyline points="678.52,365.73 688.27,375.48" fill="none" stroke="#555" stroke-width="0.6"/>
<polyline points="681.98,362.27 691.73,372.02" fill="none" stroke="#555" stroke-width="0.6"/>
<polyline points="650.77,393.48 660.52,403.23" fill="none" stroke="#555" stroke-width="0.6"/>
<polyline points="654.23,390.02 663.98,399.77" fill="none" stroke="#555" stroke-width="0.6"/>
<polyline points="589.50,372.50 629.00,411.50" fill="none" stroke="#444" stroke-width="0.6"/>
<polyline points="591.20,370.80 631.00,409.60" fill="none" stroke="#777" stroke-width="0.6"/>
<polyline points="594.50,367.50 634.50,406.50" fill="none" stroke="#444" stroke-width="0.8" stroke-dasharray="3.4 1.5"/>
<polyline points="588.50,366.00 595.00,372.50" fill="none" stroke="#000" stroke-width="5" stroke-linecap="butt" stroke-linejoin="miter"/>
<polygon points="699.75,339.60 704.65,344.50 699.75,349.40 694.85,344.50" fill="#fff" stroke="#555" stroke-width="0.6"/>
<circle cx="699.75" cy="344.50" r="3.10" fill="none" stroke="#666" stroke-width="0.6"/>
<polygon points="680.25,359.10 685.15,364.00 680.25,368.90 675.35,364.00" fill="#fff" stroke="#555" stroke-width="0.6"/>
<circle cx="680.25" cy="364.00" r="3.10" fill="none" stroke="#666" stroke-width="0.6"/>
<polygon points="690.00,368.85 694.90,373.75 690.00,378.65 685.10,373.75" fill="#fff" stroke="#555" stroke-width="0.6"/>
<circle cx="690.00" cy="373.75" r="3.10" fill="none" stroke="#666" stroke-width="0.6"/>
<polygon points="652.50,386.85 657.40,391.75 652.50,396.65 647.60,391.75" fill="#fff" stroke="#555" stroke-width="0.6"/>
<circle cx="652.50" cy="391.75" r="3.10" fill="none" stroke="#666" stroke-width="0.6"/>
<polygon points="662.25,396.60 667.15,401.50 662.25,406.40 657.35,401.50" fill="#fff" stroke="#555" stroke-width="0.6"/>
<circle cx="662.25" cy="401.50" r="3.10" fill="none" stroke="#666" stroke-width="0.6"/>
<polygon points="632.50,405.40 637.40,410.30 632.50,415.20 627.60,410.30" fill="#fff" stroke="#555" stroke-width="0.6"/>
<circle cx="632.50" cy="410.30" r="3.10" fill="none" stroke="#666" stroke-width="0.6"/>
<text x="646.50" y="360.00" font-size="8" text-anchor="middle" fill="#111" stroke="#111" stroke-width="0.18" font-weight="normal">ENTRY</text>
</g>
</svg>
</body></html>
